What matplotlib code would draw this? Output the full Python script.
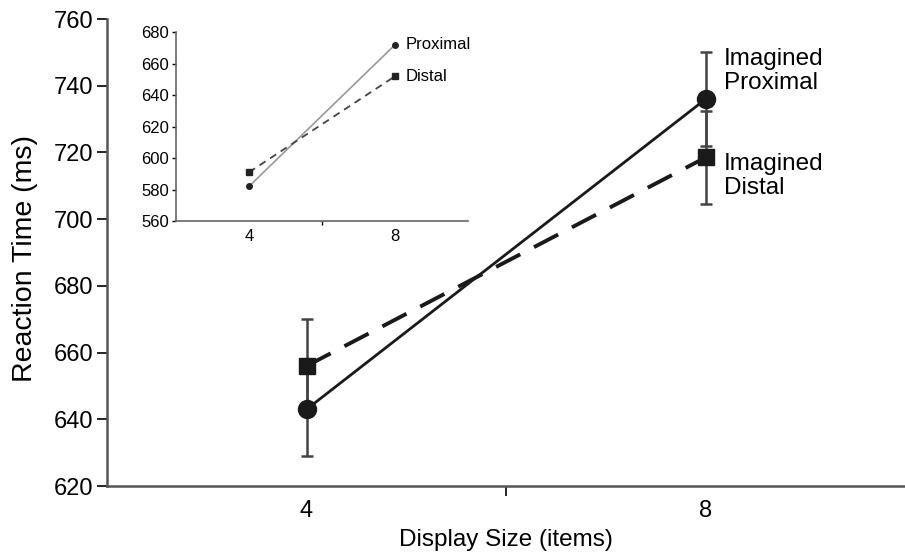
import matplotlib.pyplot as plt

plt.rcParams['font.family'] = ['Liberation Sans', 'DejaVu Sans']

# main plot data
sizes = ['4', '8']
proximal = [643, 736]
distal = [656, 718.5]
proximal_err = [14, 14]
distal_err = [14, 14]

# inset data
inset_proximal = [582, 672]
inset_distal = [591, 652]

x = [1, 2]

fig = plt.figure(figsize=(9.05, 5.6), dpi=100)
ax = fig.add_axes([0.1182, 0.132, 0.882, 0.834])

ax.errorbar(x, proximal, yerr=proximal_err, fmt='none', ecolor='#444444',
            elinewidth=1.8, capsize=4, capthick=1.8, zorder=2)
ax.errorbar(x, distal, yerr=distal_err, fmt='none', ecolor='#444444',
            elinewidth=1.8, capsize=4, capthick=1.8, zorder=2)
ax.plot(x, proximal, '-', color='#1a1a1a', lw=2, marker='o', ms=13, zorder=3)
ax.plot(x, distal, color='#1a1a1a', lw=2.8, dashes=(7, 4), marker='s', ms=12,
        zorder=3)

ax.text(2.045, 744.5, 'Imagined\nProximal', fontsize=17.5, va='center',
        ha='left', linespacing=1.1)
ax.text(2.045, 713, 'Imagined\nDistal', fontsize=17.5, va='center',
        ha='left', linespacing=1.1)

ax.set_xlim(0.5, 2.5)
ax.set_ylim(620, 760)
ax.set_yticks(range(620, 761, 20))
ax.set_xticks([1.5])
ax.set_xticklabels([''])
ax.set_xticks(x, minor=True)
ax.set_xticklabels(sizes, minor=True)
ax.tick_params(axis='x', which='major', direction='out', length=7, width=1.2)
ax.tick_params(axis='x', which='minor', length=0, pad=10, labelsize=17)
ax.tick_params(axis='y', direction='out', length=7, width=1.2, labelsize=17,
               pad=3)
ax.spines['top'].set_visible(False)
ax.spines['right'].set_visible(False)
for s in ['left', 'bottom']:
    ax.spines[s].set_color('#555555')
    ax.spines[s].set_linewidth(1.8)
ax.set_xlabel('Display Size (items)', fontsize=17.5, labelpad=5)
ax.set_ylabel('Reaction Time (ms)', fontsize=20.5)
ax.yaxis.set_label_coords(-0.087, 0.487)

# inset
ins = fig.add_axes([0.1945, 0.6054, 0.3225, 0.3369])
ins.plot(x, inset_proximal, '-', color='#999999', lw=1.2, marker='o', ms=4,
         mfc='#222222', mec='#222222')
ins.plot(x, inset_distal, color='#444444', lw=1.3, dashes=(4, 3), marker='s',
         ms=4.5, mfc='#222222', mec='#222222')
ins.text(2.07, inset_proximal[1], 'Proximal', fontsize=12, va='center')
ins.text(2.07, inset_distal[1], 'Distal', fontsize=12, va='center')
ins.set_xlim(0.5, 2.5)
ins.set_ylim(560, 680)
ins.set_yticks(range(560, 681, 20))
ins.set_xticks([1.5])
ins.set_xticklabels([''])
ins.set_xticks(x, minor=True)
ins.set_xticklabels(sizes, minor=True)
ins.tick_params(axis='x', which='major', direction='out', length=3, width=1)
ins.tick_params(axis='x', which='minor', length=0, pad=6, labelsize=12)
ins.tick_params(axis='y', direction='out', length=3, width=1, labelsize=12,
                pad=2)
ins.spines['top'].set_visible(False)
ins.spines['right'].set_visible(False)
for s in ['left', 'bottom']:
    ins.spines[s].set_color('#666666')
    ins.spines[s].set_linewidth(1.2)
ins.patch.set_alpha(0)

fig.savefig('out.png', dpi=100)
